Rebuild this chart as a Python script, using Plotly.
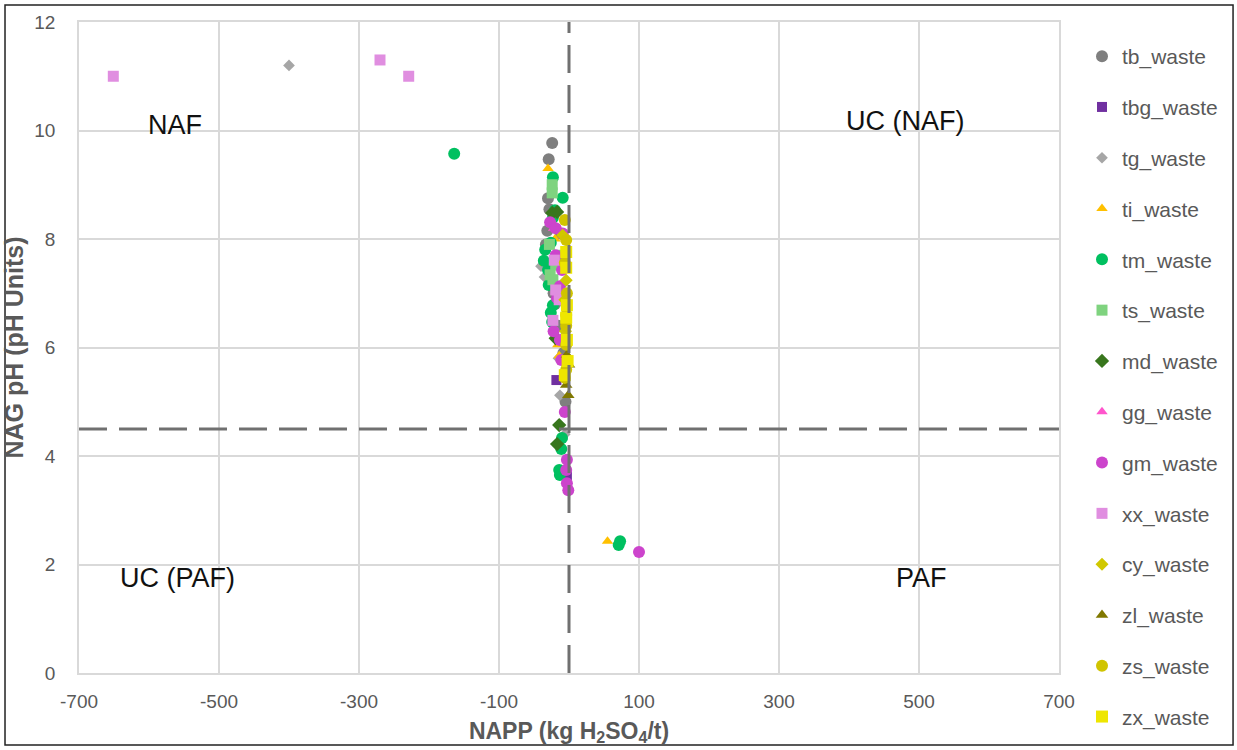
import plotly.graph_objects as go

# ---------------- data (NAPP kg H2SO4/t, NAG pH) ----------------
tb_x = [-24, -29, -30, -31, -33, -12, -10, -20, -25, -8, -5, -15, -28, -22]
tb_y = [9.77, 9.47, 8.75, 8.15, 7.9, 8.1, 7.6, 6.8, 7.2, 5.9, 5.0, 6.4, 8.55, 7.0]

tbg_x = [-18, -3]
tbg_y = [5.4, 3.65]

tg_x = [-400, -40, -8, -15, -13, -6, -35, -10]
tg_y = [11.2, 7.5, 6.2, 5.8, 5.12, 4.4, 7.3, 4.3]

ti_x = [55, -30, -16, -14, -34, -20]
ti_y = [2.43, 9.3, 6.05, 5.85, 7.55, 8.0]

tm_x = [-164, 73, 71, -23, -9, -20, -23, -26, -34, -30, -29, -23, -26, -24, -11, -10, -14, -13, -36]
tm_y = [9.57, 2.43, 2.36, 9.14, 8.76, 8.53, 8.39, 7.93, 7.8, 7.43, 7.15, 6.78, 6.64, 6.47, 4.13, 4.33, 3.74, 3.65, 7.6]

ts_x = [-24, -24, -27, -19, -23, -14, -28]
ts_y = [9.0, 8.85, 7.34, 7.52, 7.25, 7.7, 7.9]

md_x = [-24, -17, -19, -14, -17]
md_y = [8.48, 8.5, 6.17, 4.57, 4.22]

gg_x = [-13, -22]
gg_y = [7.06, 8.2]

gm_x = [-27, -19, -9, -19, -10, -13, -17, -13, -11, -6, -4, -3, -1, -3, 100, -22]
gm_y = [8.31, 8.2, 8.1, 7.7, 7.43, 7.13, 6.91, 6.14, 5.77, 4.81, 3.74, 3.5, 3.37, 3.93, 2.23, 6.3]

xx_x = [-651, -270, -229, -21, -19, -14, -23]
xx_y = [11.0, 11.3, 11.0, 7.61, 7.06, 6.88, 6.5]

cy_x = [-9, -4, -6, -5]
cy_y = [8.07, 7.24, 6.88, 6.3]

zl_x = [-3, -4, -1, 0]
zl_y = [5.86, 5.31, 5.12, 5.68]

zs_x = [-6, -4, -6, -4, -4, -4, -4, -6, -3]
zs_y = [8.35, 7.98, 7.56, 6.6, 6.4, 6.05, 5.59, 5.44, 7.0]

zx_x = [-4, -4, -3, -4, -3, -2, -6]
zx_y = [7.76, 7.47, 6.78, 6.55, 6.14, 5.75, 5.49]

NAPP_THRESHOLD = 0
NAG_THRESHOLD = 4.5

x_ticks = [-700, -500, -300, -100, 100, 300, 500, 700]
y_ticks = [0, 2, 4, 6, 8, 10, 12]

quadrant_labels = ["NAF", "UC (NAF)", "UC (PAF)", "PAF"]
quadrant_x = [-563, 480, -559, 504]
quadrant_y = [10.1, 10.17, 1.75, 1.75]

series = [
    ("tb_waste", tb_x, tb_y, "circle", "#7f7f7f", 12),
    ("tbg_waste", tbg_x, tbg_y, "square", "#7030a0", 10),
    ("tg_waste", tg_x, tg_y, "diamond", "#a6a6a6", 9),
    ("ti_waste", ti_x, ti_y, "triangle-up", "#ffc000", 10),
    ("tm_waste", tm_x, tm_y, "circle", "#00c060", 12),
    ("ts_waste", ts_x, ts_y, "square", "#7fd37f", 11),
    ("md_waste", md_x, md_y, "diamond", "#38761d", 11),
    ("gg_waste", gg_x, gg_y, "triangle-up", "#ff55cc", 10),
    ("gm_waste", gm_x, gm_y, "circle", "#cc44cc", 12),
    ("xx_waste", xx_x, xx_y, "square", "#e08ee0", 11),
    ("cy_waste", cy_x, cy_y, "diamond", "#d0c800", 10),
    ("zl_waste", zl_x, zl_y, "triangle-up", "#807800", 11),
    ("zs_waste", zs_x, zs_y, "circle", "#d0c400", 12),
    ("zx_waste", zx_x, zx_y, "square", "#eee600", 12),
]

FONT = "Arial, Liberation Sans, sans-serif"
GRAY = "#595959"

fig = go.Figure()
for name, xs, ys, sym, col, sz in series:
    fig.add_trace(go.Scatter(
        x=xs, y=ys, mode="markers", name=name, legendgroup=name,
        marker=dict(symbol=sym, color=col, size=sz, line=dict(width=0)),
    ))

# threshold dashed lines
fig.add_shape(type="line", xref="x", yref="y", x0=NAPP_THRESHOLD, x1=NAPP_THRESHOLD,
              y0=y_ticks[0], y1=y_ticks[-1], line=dict(color="#707070", width=3, dash="28px,12px"))
fig.add_shape(type="line", xref="x", yref="y", x0=x_ticks[0], x1=x_ticks[-1],
              y0=NAG_THRESHOLD, y1=NAG_THRESHOLD, line=dict(color="#707070", width=3, dash="28px,12px"))

for t, qx, qy in zip(quadrant_labels, quadrant_x, quadrant_y):
    fig.add_annotation(x=qx, y=qy, text=t, showarrow=False, xref="x", yref="y",
                       font=dict(family=FONT, size=27, color="#111111"))

# outer frame
fig.add_shape(type="rect", xref="paper", yref="paper", x0=-0.0755, x1=1.1776, y0=-0.1106, y1=1.026,
              line=dict(color="#222222", width=1.5), layer="below")

fig.update_layout(
    width=1237, height=750,
    margin=dict(l=79, r=178, t=22, b=77, autoexpand=False),
    paper_bgcolor="white", plot_bgcolor="white",
    font=dict(family=FONT, color=GRAY),
    showlegend=True,
    legend=dict(
        xref="container", yref="container", x=1082 / 1237, y=1 - 36 / 750,
        xanchor="left", yanchor="top",
        font=dict(family=FONT, size=21, color=GRAY),
        tracegroupgap=20.5, itemwidth=30, bgcolor="rgba(0,0,0,0)",
        maxheight=740,
    ),
    xaxis=dict(
        range=[x_ticks[0], x_ticks[-1]], tickvals=x_ticks, ticktext=[str(v) for v in x_ticks],
        showgrid=True, gridcolor="#d9d9d9", gridwidth=1.5, zeroline=False,
        showline=True, linecolor="#d9d9d9", linewidth=1.5, mirror=True,
        tickfont=dict(family=FONT, size=19, color=GRAY), ticks="",
        ticklabelstandoff=10,
        title=dict(text="<b>NAPP (kg H<sub>2</sub>SO<sub>4</sub>/t)</b>",
                   font=dict(family=FONT, size=23, color=GRAY), standoff=12),
    ),
    yaxis=dict(
        range=[y_ticks[0], y_ticks[-1]], tickvals=y_ticks,
        showgrid=True, gridcolor="#d9d9d9", gridwidth=1.5, zeroline=False,
        showline=True, linecolor="#d9d9d9", linewidth=1.5, mirror=True,
        tickfont=dict(family=FONT, size=19, color=GRAY), ticks="",
        ticklabelstandoff=18,
        title=dict(text="<b>NAG pH (pH Units)</b>",
                   font=dict(family=FONT, size=25, color=GRAY), standoff=4),
    ),
)

fig.write_html("out.html")
